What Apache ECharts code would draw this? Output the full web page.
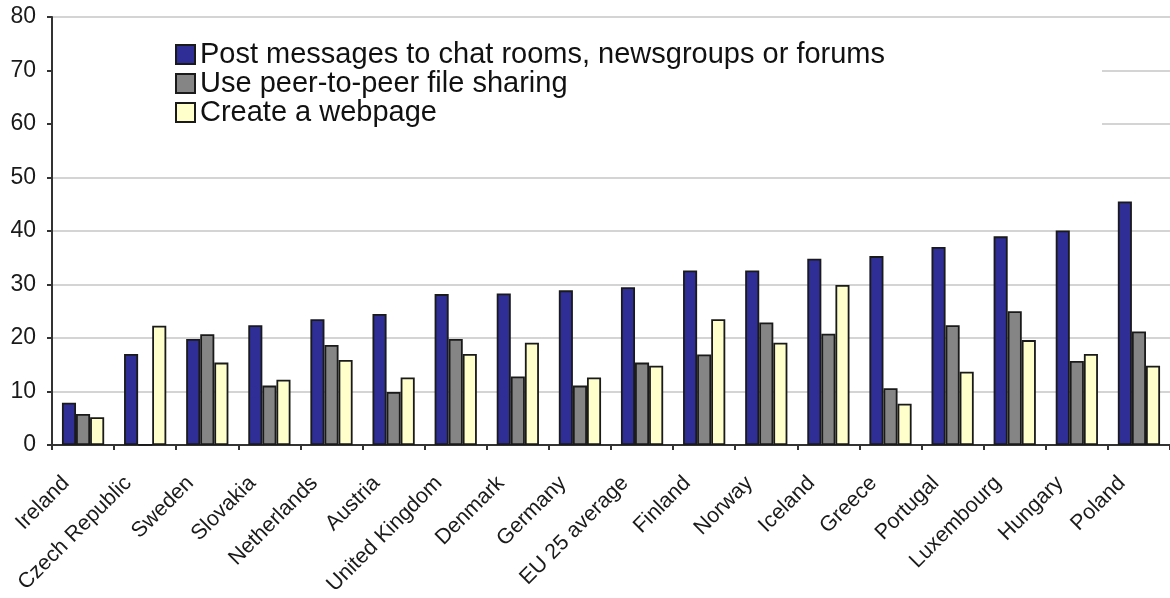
<!DOCTYPE html>
<html><head><meta charset="utf-8">
<script src="https://cdn.jsdelivr.net/npm/echarts@6/dist/echarts.min.js"></script>
<style>html,body{margin:0;padding:0;background:#fff}#c{width:1170px;height:598px}</style>
</head><body><div id="c"></div>
<script>
const categories = ["Ireland","Czech Republic","Sweden","Slovakia","Netherlands","Austria","United Kingdom","Denmark","Germany","EU 25 average","Finland","Norway","Iceland","Greece","Portugal","Luxembourg","Hungary","Poland"];
const seriesNames = ["Post messages to chat rooms, newsgroups or forums","Use peer-to-peer file sharing","Create a webpage"];
const postMessages = [7.9,17.0,19.8,22.4,23.5,24.5,28.2,28.3,28.9,29.5,32.6,32.6,34.8,35.3,37.0,39.0,40.1,45.5];
const peerToPeer   = [5.8,0,20.7,11.1,18.7,9.9,19.8,12.8,11.1,15.4,16.9,22.9,20.8,10.6,22.4,25.0,15.7,21.2];
const createWebpage= [5.2,22.3,15.4,12.2,15.9,12.6,17.0,19.1,12.6,14.8,23.5,19.1,29.9,7.7,13.7,19.6,17.0,14.8];
const yTicks = [0,10,20,30,40,50,60,70,80];

const colors = ['#2e2e96','#858585','#ffffcc'];
const values = [postMessages, peerToPeer, createWebpage];
const font = '"Liberation Sans", Arial, sans-serif';

const chart = echarts.init(document.getElementById('c'));
chart.setOption({
  animation: false,
  grid: {left: 52, right: -7, top: 17, bottom: 153, containLabel: false},
  legend: {
    orient: 'vertical', left: 53, top: 25,
    padding: [15, 217, 12, 122],
    backgroundColor: '#ffffff',
    itemWidth: 19, itemHeight: 19, itemGap: 0,
    icon: 'rect',
    textStyle: {fontFamily: font, fontSize: 29, color: '#111', lineHeight: 28, padding: [0,0,0,0]},
    data: seriesNames
  },
  xAxis: {
    type: 'category', data: categories,
    axisLine: {lineStyle: {color: '#333', width: 2}},
    axisTick: {show: true, alignWithLabel: false, length: 5, lineStyle: {color: '#333', width: 2}},
    axisLabel: {interval: 0, rotate: 45, fontFamily: font, fontSize: 21.5, color: '#1a1a1a', margin: 18, padding: [0, 24, 0, 0]}
  },
  yAxis: {
    type: 'value', min: yTicks[0], max: yTicks[yTicks.length-1], interval: 10,
    axisLine: {show: true, lineStyle: {color: '#333', width: 2}},
    axisTick: {show: true, length: 5, lineStyle: {color: '#333', width: 2}},
    axisLabel: {fontFamily: font, fontSize: 23, color: '#1a1a1a', margin: 16},
    splitLine: {lineStyle: {color: '#d4d4d4', width: 2}}
  },
  series: seriesNames.map((n, i) => ({
    name: n, type: 'bar', data: values[i],
    barGap: '0%', barCategoryGap: '32%',
    itemStyle: {color: colors[i], borderColor: '#1a1a1a', borderWidth: 1.8}
  }))
});
</script></body></html>
